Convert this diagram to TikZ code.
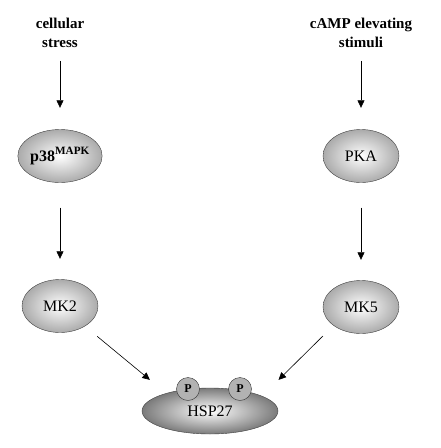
\documentclass[tikz,border=0pt]{standalone}
\usepackage{fontspec}
\setmainfont{Liberation Serif}
\usetikzlibrary{shapes.geometric,arrows.meta}

\begin{document}
\begin{tikzpicture}[x=1pt,y=-1pt,
  kin/.style={ellipse,draw=black!75,inner sep=0pt,minimum width=76pt,minimum height=53pt,inner color=white,outer color=black!33,font=\fontsize{16}{18}\selectfont},
  lbl/.style={align=center,inner sep=0pt,font=\fontsize{15}{19}\selectfont\bfseries},
  phos/.style={circle,draw=black!80,fill=black!30,inner sep=0pt,minimum size=23pt,font=\fontsize{12}{14}\selectfont\bfseries},
  arr/.style={-{Triangle[length=7.5pt,width=7pt]},semithick}]
\useasboundingbox (0,0) rectangle (441,448);
\node[lbl] (stress) at (60,33) {cellular\\stress};
\node[lbl] (camp) at (361,33) {cAMP elevating\\stimuli};
\node[kin] (p38) at (60,156) {\bfseries p38\textsuperscript{MAPK}};
\node[kin] (pka) at (361,156) {PKA};
\node[kin] (mk2) at (60,306) {MK2};
\node[kin] (mk5) at (361,307) {MK5};
\node[kin,minimum width=136pt,minimum height=46pt,outer color=black!52] (hsp) at (210,411) {HSP27};
\node[phos] (p1) at (188,389) {P};
\node[phos] (p2) at (240,389) {P};
\draw[arr,shorten <=13pt,shorten >=21.5pt] (stress) -- (p38);
\draw[arr,shorten <=13pt,shorten >=21.5pt] (camp) -- (pka);
\draw[arr,shorten <=25pt,shorten >=20.5pt] (p38) -- (mk2);
\draw[arr,shorten <=25pt,shorten >=20.5pt] (pka) -- (mk5);
\draw[arr,shorten <=16pt,shorten >=21pt] (mk2.-39) -- (hsp.158);
\draw[arr,shorten <=15pt,shorten >=23pt] (mk5.-146) -- (hsp.16);
\end{tikzpicture}
\end{document}
